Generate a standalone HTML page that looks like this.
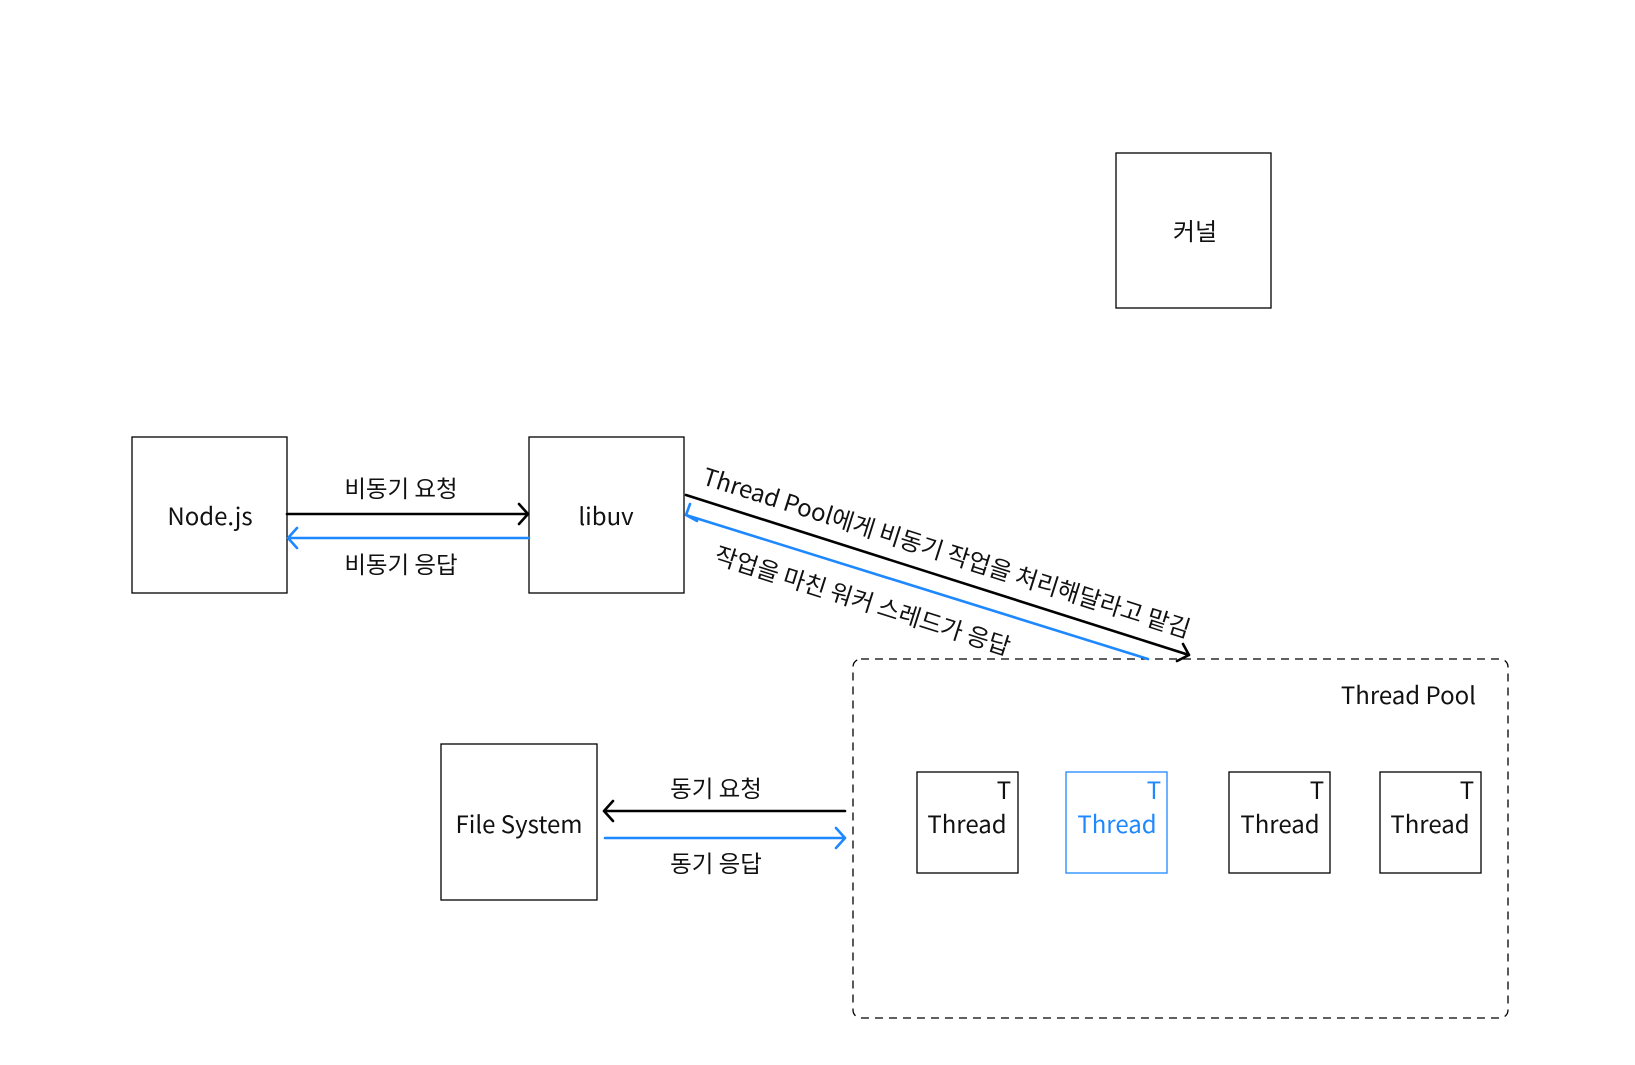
<!DOCTYPE html>
<html><head><meta charset="utf-8"><style>
html,body{margin:0;padding:0;background:#fff;}
svg{display:block;}
text{font-family:"Noto Sans CJK KR","Liberation Sans",sans-serif;}
</style></head><body>
<svg width="1635" height="1065" viewBox="0 0 1635 1065" xmlns="http://www.w3.org/2000/svg">
<rect width="1635" height="1065" fill="#fff"/>
<g fill="#fff" stroke="#000" stroke-width="1.3">
<rect x="1116" y="153" width="155" height="155"/>
<rect x="132" y="437" width="155" height="156"/>
<rect x="529" y="437" width="155" height="156"/>
<rect x="441" y="744" width="156" height="156"/>
<rect x="853" y="659" width="655" height="359" rx="8" stroke-dasharray="8 6"/>
<rect x="917" y="772" width="101" height="101"/>
<rect x="1066" y="772" width="101" height="101" stroke="#1e88ff"/>
<rect x="1229" y="772" width="101" height="101"/>
<rect x="1380" y="772" width="101" height="101"/>
</g>
<g font-size="24" text-anchor="middle" fill="#111">
<text x="1195" y="240">커널</text>
<text x="210" y="525">Node.js</text>
<text x="606" y="525">libuv</text>
<text x="519" y="833">File System</text>
<text x="1476" y="704" text-anchor="end">Thread Pool</text>
<text x="967" y="833">Thread</text>
<text x="1117" y="833" fill="#1e88ff">Thread</text>
<text x="1280" y="833">Thread</text>
<text x="1430" y="833">Thread</text>
<text x="1004" y="799">T</text>
<text x="1154" y="799" fill="#1e88ff">T</text>
<text x="1317" y="799">T</text>
<text x="1467" y="799">T</text>
<text x="401" y="497" font-size="23.5">비동기 요청</text>
<text x="401" y="573" font-size="23.5">비동기 응답</text>
<text x="716" y="797" font-size="23.5">동기 요청</text>
<text x="716" y="872" font-size="23.5">동기 응답</text>
<text transform="translate(944,561) rotate(17.6)" font-size="24">Thread Pool에게 비동기 작업을 처리해달라고 맡김</text>
<text transform="translate(860,609) rotate(17.6)" font-size="24">작업을 마친 워커 스레드가 응답</text>
</g>
<g fill="none" stroke-width="2.6" stroke-linecap="round" stroke-linejoin="round">
<path d="M287 514H528M519 504L528 514L519 524" stroke="#000"/>
<path d="M529 538H288M297 528L288 538L297 548" stroke="#1e88ff"/>
<path d="M686 495L1189 655M1183 644L1189 655L1177 661" stroke="#000"/>
<path d="M1148 659L686 515M690 504L686 515L697 521" stroke="#1e88ff"/>
<path d="M845 811H604M613 801L604 811L613 821" stroke="#000"/>
<path d="M605 838H845M836 828L845 838L836 848" stroke="#1e88ff"/>
</g>
</svg>
</body></html>
